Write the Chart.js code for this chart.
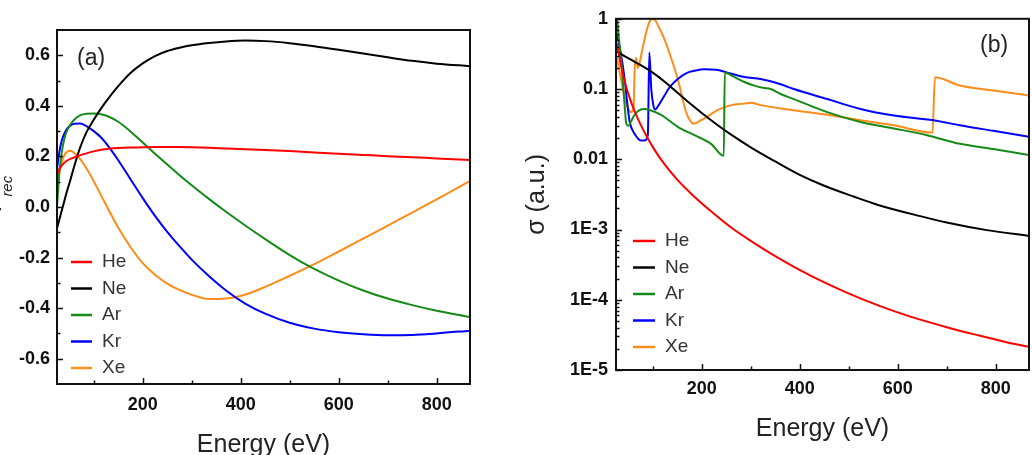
<!DOCTYPE html>
<html>
<head>
<meta charset="utf-8">
<title>Recombination asymmetry and cross sections</title>
<script src="https://cdn.jsdelivr.net/npm/chart.js@4.4.0/dist/chart.umd.min.js"></script>
<style>
  html, body { margin: 0; padding: 0; background: #ffffff; }
  #wrap { position: relative; width: 1032px; height: 455px; overflow: hidden; }
  .panel { position: absolute; top: 0; }
  #panelA { left: 0; }
  #panelB { left: 500px; }
</style>
</head>
<body>
<div id="wrap">
  <div class="panel" id="panelA"><canvas id="chartA" width="500" height="455"></canvas></div>
  <div class="panel" id="panelB"><canvas id="chartB" width="532" height="455"></canvas></div>
</div>
<script>
/************************************************************************************************
 *                                        CHART DATA
 *
 * **********************************************************************************************/
const seriesLabels = ["He", "Ne", "Ar", "Kr", "Xe"];
const seriesColors = ["#ff0000", "#000000", "#168a16", "#0000ff", "#ff8c1a"];

// panel (a): beta_rec against photon energy (eV)
const energyA = [25, 30, 35, 40, 45, 52, 60, 72, 85, 100, 115, 130, 150, 175, 200, 225, 250, 275, 300, 335, 370, 410, 450, 500, 550, 600, 650, 700, 750, 800, 868];
const heA = [0.13, 0.15, 0.165, 0.175, 0.183, 0.19, 0.196, 0.204, 0.212, 0.22, 0.226, 0.23, 0.233, 0.235, 0.236, 0.237, 0.237, 0.237, 0.236, 0.234, 0.231, 0.228, 0.225, 0.221, 0.216, 0.211, 0.206, 0.201, 0.197, 0.192, 0.186];
const neA = [-0.085, -0.048, -0.012, 0.024, 0.06, 0.105, 0.16, 0.234, 0.295, 0.345, 0.39, 0.43, 0.478, 0.53, 0.568, 0.597, 0.617, 0.63, 0.64, 0.649, 0.655, 0.658, 0.656, 0.648, 0.636, 0.622, 0.607, 0.592, 0.578, 0.567, 0.557];
const arA = [0.0, 0.14, 0.22, 0.27, 0.3, 0.325, 0.345, 0.362, 0.369, 0.37, 0.367, 0.358, 0.337, 0.299, 0.255, 0.211, 0.168, 0.126, 0.086, 0.032, -0.019, -0.074, -0.127, -0.19, -0.245, -0.291, -0.33, -0.362, -0.388, -0.41, -0.435];
const krA = [0.15, 0.22, 0.265, 0.29, 0.308, 0.322, 0.329, 0.33, 0.32, 0.3, 0.275, 0.24, 0.185, 0.11, 0.035, -0.035, -0.098, -0.155, -0.208, -0.273, -0.33, -0.383, -0.422, -0.458, -0.481, -0.495, -0.503, -0.507, -0.506, -0.5, -0.489];
const xeA = [0.07, 0.14, 0.18, 0.205, 0.217, 0.222, 0.214, 0.19, 0.153, 0.102, 0.046, -0.01, -0.082, -0.158, -0.222, -0.268, -0.303, -0.328, -0.347, -0.364, -0.362, -0.346, -0.316, -0.272, -0.226, -0.176, -0.125, -0.074, -0.022, 0.03, 0.103];

// panel (b): sigma (a.u.), every gas has its own energies because of the edges
const heEnergyB = [27, 35, 45, 56, 70, 85, 104, 125, 150, 180, 219, 260, 300, 355, 420, 490, 560, 626, 700, 761, 820, 868];
const heB = [0.447, 0.219, 0.112, 0.0646, 0.0372, 0.0229, 0.0135, 0.0083, 0.00513, 0.00316, 0.00182, 0.00107, 0.00069, 0.000398, 0.000224, 0.000132, 0.0000832, 0.0000575, 0.0000407, 0.0000316, 0.0000251, 0.0000214];
const neEnergyB = [27, 45, 65, 85, 105, 125, 150, 175, 200, 230, 260, 300, 350, 400, 450, 510, 560, 646, 700, 782, 868];
const neB = [0.339, 0.288, 0.24, 0.2, 0.162, 0.126, 0.0891, 0.0631, 0.0457, 0.0316, 0.0224, 0.0148, 0.0093, 0.006, 0.0042, 0.00295, 0.00224, 0.00155, 0.00126, 0.00098, 0.00081];
const arEnergyB = [27, 30, 36, 42.6, 46, 50, 56, 63, 73, 83, 95, 117, 151, 185, 219, 245, 247, 265, 287, 307, 325, 341, 361, 388, 456, 524, 592, 660, 727, 795, 868];
const arB = [1.0, 0.6, 0.24, 0.059, 0.032, 0.03, 0.035, 0.043, 0.05, 0.052, 0.05, 0.043, 0.029, 0.022, 0.0166, 0.0112, 0.17, 0.15, 0.126, 0.112, 0.104, 0.1, 0.085, 0.072, 0.047, 0.034, 0.0275, 0.022, 0.0166, 0.014, 0.0115];
const krEnergyB = [27, 35, 42.6, 48, 53, 63, 76, 83, 90, 93, 97, 101, 105, 110, 124, 135, 151, 170, 185, 205, 230, 249, 287, 320, 361, 388, 456, 524, 592, 673, 727, 795, 868];
const krB = [0.6, 0.32, 0.14, 0.063, 0.034, 0.023, 0.0185, 0.0185, 0.022, 0.33, 0.1, 0.06, 0.051, 0.056, 0.081, 0.107, 0.139, 0.17, 0.182, 0.192, 0.188, 0.174, 0.148, 0.139, 0.117, 0.1, 0.072, 0.052, 0.042, 0.036, 0.0305, 0.0254, 0.0209];
const xeEnergyB = [27, 35, 42, 50, 57, 61, 63, 66, 69, 72, 80, 88, 95, 100, 106, 115, 124, 138, 151, 168, 178, 185, 195, 205, 232, 260, 287, 300, 320, 388, 456, 524, 592, 671, 676, 727, 795, 868];
const xeB = [0.28, 0.14, 0.08, 0.052, 0.047, 0.056, 0.18, 0.28, 0.2, 0.22, 0.4, 0.7, 0.95, 1.0, 0.93, 0.7, 0.51, 0.27, 0.139, 0.047, 0.034, 0.032, 0.035, 0.038, 0.05, 0.059, 0.062, 0.064, 0.059, 0.05, 0.043, 0.036, 0.0305, 0.024, 0.147, 0.112, 0.095, 0.081];

// ticks
const energyTicks = [100, 200, 300, 400, 500, 600, 700, 800];
const betaTicks = [-0.6, -0.5, -0.4, -0.3, -0.2, -0.1, 0.0, 0.1, 0.2, 0.3, 0.4, 0.5, 0.6];
const sigmaDecades = [0.00001, 0.0001, 0.001, 0.01, 0.1, 1];
const sigmaDecadeLabels = ["1E-5", "1E-4", "1E-3", "0.01", "0.1", "1"];

/************************************************************************************************
 *                                        SETTINGS
 *
 * **********************************************************************************************/
const FONT = "'Liberation Sans', Arial, sans-serif";
Chart.defaults.font.family = FONT;
Chart.defaults.color = "#111111";

const tickFont = { family: FONT, size: 18, weight: "bold" };
const titleFont = { family: FONT, size: 25, weight: "normal", lineHeight: 1 };
const hiddenGrid = { display: false, drawTicks: false };

/************************************************************************************************
 *                                        PLUGINS
 *
 * **********************************************************************************************/

// box round the plot and short ticks pointing inwards
const frameTicks = {
  id: "frameTicks",
  afterDraw(chart) {
    const { ctx, chartArea: area } = chart;
    const xs = chart.scales.x;
    const ys = chart.scales.y;
    ctx.save();
    ctx.strokeStyle = "#111111";
    ctx.lineWidth = 1.5;
    ctx.beginPath();
    xs.ticks.forEach((t) => {
      const px = Math.round(xs.getPixelForValue(t.value)) + 0.5;
      const len = t.label ? 6 : 3.5;
      ctx.moveTo(px, area.bottom);
      ctx.lineTo(px, area.bottom - len);
    });
    ys.ticks.forEach((t) => {
      const py = Math.round(ys.getPixelForValue(t.value)) + 0.5;
      const len = t.label ? 6 : 3.5;
      ctx.moveTo(area.left, py);
      ctx.lineTo(area.left + len, py);
    });
    ctx.stroke();
    ctx.lineWidth = 2;
    ctx.strokeRect(area.left, area.top, area.right - area.left, area.bottom - area.top);
    ctx.restore();
  },
};

// legend drawn inside the plot
const insideLegend = {
  id: "insideLegend",
  afterDraw(chart, args, opts) {
    const ctx = chart.ctx;
    ctx.save();
    ctx.font = "19px " + FONT;
    ctx.textBaseline = "middle";
    ctx.textAlign = "left";
    chart.data.datasets.forEach((ds, i) => {
      const y = opts.top + i * opts.rowHeight;
      ctx.strokeStyle = ds.borderColor;
      ctx.lineWidth = 2.5;
      ctx.beginPath();
      ctx.moveTo(opts.left, y);
      ctx.lineTo(opts.left + opts.lineLength, y);
      ctx.stroke();
      ctx.fillStyle = "#333333";
      ctx.fillText(ds.label, opts.textLeft, y);
    });
    ctx.restore();
  },
};

// "(a)" / "(b)" and the y title with a subscript
const panelText = {
  id: "panelText",
  afterDraw(chart, args, opts) {
    const ctx = chart.ctx;
    ctx.save();
    ctx.fillStyle = "#222222";
    ctx.textBaseline = "middle";
    ctx.textAlign = "left";
    ctx.font = "23px " + FONT;
    ctx.fillText(opts.tag, opts.tagX, opts.tagY);
    if (opts.yMain) {
      ctx.translate(opts.yX, opts.yY);
      ctx.rotate(-Math.PI / 2);
      ctx.textBaseline = "alphabetic";
      ctx.font = "25px " + FONT;
      ctx.fillText(opts.yMain, 0, 0);
      const w = ctx.measureText(opts.yMain).width;
      ctx.font = "italic 15px " + FONT;
      ctx.fillText(opts.ySub, w + 1, opts.subDrop);
    }
    ctx.restore();
  },
};

/************************************************************************************************
 *                                        DATASETS & AXES
 *
 * **********************************************************************************************/
function makeDataset(i, energies, values) {
  return {
    label: seriesLabels[i],
    data: energies.map((e, k) => ({ x: e, y: values[k] })),
    borderColor: seriesColors[i],
    backgroundColor: seriesColors[i],
    borderWidth: 2,
    pointRadius: 0,
    fill: false,
    cubicInterpolationMode: "monotone",
  };
}

function getEnergyAxis(height, labelPadding, titlePadding) {
  return {
    type: "linear",
    min: 25,
    max: 868,
    afterBuildTicks: (scale) => {
      scale.ticks = energyTicks.map((v) => ({ value: v }));
    },
    afterFit: (scale) => {
      scale.height = height;
    },
    grid: hiddenGrid,
    border: { display: false },
    ticks: {
      autoSkip: false,
      maxRotation: 0,
      padding: labelPadding,
      font: tickFont,
      color: "#111111",
      callback: (v) => (v % 200 === 0 ? String(v) : ""),
    },
    title: {
      display: true,
      text: "Energy (eV)",
      font: titleFont,
      color: "#222222",
      padding: { top: 0, bottom: titlePadding },
    },
  };
}

/************************************************************************************************
 *                                        PANEL (a)
 *
 * **********************************************************************************************/
function getConfigA() {
  return {
    type: "line",
    data: {
      datasets: [
        makeDataset(0, energyA, heA),
        makeDataset(1, energyA, neA),
        makeDataset(2, energyA, arA),
        makeDataset(3, energyA, krA),
        makeDataset(4, energyA, xeA),
      ],
    },
    options: {
      responsive: false,
      animation: false,
      layout: { padding: { top: 30, right: 30, bottom: 0, left: 0 } },
      scales: {
        x: getEnergyAxis(71, 10, -3),
        y: {
          type: "linear",
          min: -0.7,
          max: 0.7,
          afterBuildTicks: (scale) => {
            scale.ticks = betaTicks.map((v) => ({ value: v }));
          },
          afterFit: (scale) => {
            scale.width = 57;
          },
          grid: hiddenGrid,
          border: { display: false },
          ticks: {
            autoSkip: false,
            padding: 7,
            font: tickFont,
            color: "#111111",
            callback: (v) => (Math.round(v * 10) % 2 === 0 ? v.toFixed(1) : ""),
          },
        },
      },
      plugins: {
        legend: { display: false },
        tooltip: { enabled: false },
        insideLegend: { left: 71, lineLength: 21, textLeft: 102, top: 262, rowHeight: 26.5 },
        panelText: { tag: "(a)", tagX: 77, tagY: 59, yMain: "\u03b2", ySub: "rec", yX: -4, yY: 212, subDrop: 16 },
      },
    },
    plugins: [frameTicks, insideLegend, panelText],
  };
}

/************************************************************************************************
 *                                        PANEL (b)
 *
 * **********************************************************************************************/
function getConfigB() {
  return {
    type: "line",
    data: {
      datasets: [
        makeDataset(0, heEnergyB, heB),
        makeDataset(1, neEnergyB, neB),
        makeDataset(2, arEnergyB, arB),
        makeDataset(3, krEnergyB, krB),
        makeDataset(4, xeEnergyB, xeB),
      ],
    },
    options: {
      responsive: false,
      animation: false,
      layout: { padding: { top: 16, right: 3, bottom: 0, left: 0 } },
      scales: {
        x: getEnergyAxis(85, 8, 13.5),
        y: {
          type: "logarithmic",
          min: 0.00001,
          max: 1,
          afterBuildTicks: (scale) => {
            const ticks = [];
            sigmaDecades.forEach((d, i) => {
              ticks.push({ value: d });
              if (i < sigmaDecades.length - 1) {
                for (let m = 2; m <= 9; m++) ticks.push({ value: d * m });
              }
            });
            scale.ticks = ticks;
          },
          afterFit: (scale) => {
            scale.width = 116;
          },
          grid: hiddenGrid,
          border: { display: false },
          ticks: {
            autoSkip: false,
            padding: 8,
            font: tickFont,
            color: "#111111",
            callback: (v) => {
              const idx = sigmaDecades.findIndex((d) => Math.abs(d - v) / d < 1e-6);
              return idx >= 0 ? sigmaDecadeLabels[idx] : "";
            },
          },
          title: {
            display: true,
            text: "\u03c3 (a.u.)",
            font: titleFont,
            color: "#222222",
            padding: { top: 24.5, bottom: 0 },
          },
        },
      },
      plugins: {
        legend: { display: false },
        tooltip: { enabled: false },
        insideLegend: { left: 133, lineLength: 22, textLeft: 165, top: 241, rowHeight: 26.5 },
        panelText: { tag: "(b)", tagX: 480, tagY: 46 },
      },
    },
    plugins: [frameTicks, insideLegend, panelText],
  };
}

/************************************************************************************************
 *                                        RENDER
 *
 * **********************************************************************************************/
const chartA = new Chart(document.getElementById("chartA"), getConfigA());
const chartB = new Chart(document.getElementById("chartB"), getConfigB());
</script>
</body>
</html>
